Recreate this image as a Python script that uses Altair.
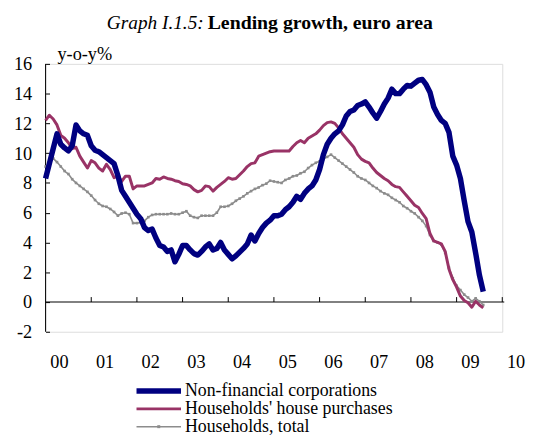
import altair as alt
import pandas as pd

# ---------------- data (monthly, Jan 2000 - Aug 2009, y-o-y %) ----------------
nfc = [8.3, 9.3, 10.3, 11.3, 10.6, 10.35, 10.15, 10.5, 11.9, 11.5,
       11.3, 11.2, 10.5, 10.2, 10.1, 9.9, 9.7, 9.5, 9.3, 8.5,
       7.5, 7.1, 6.7, 6.3, 5.9, 5.6, 5.0, 4.8, 4.9, 4.3,
       3.8, 3.7, 3.4, 3.5, 2.7, 3.2, 3.8, 3.8, 3.5, 3.25,
       3.15, 3.4, 3.7, 3.9, 3.5, 3.6, 4.0, 3.5, 3.2, 2.9,
       3.1, 3.35, 3.6, 3.9, 4.5, 4.1, 4.6, 5.0, 5.3, 5.5,
       5.8, 5.8, 5.9, 6.2, 6.4, 6.7, 7.1, 6.9, 7.3, 7.6,
       7.8, 8.2, 8.9, 9.9, 10.6, 11.0, 11.3, 11.5, 11.9, 12.5,
       12.8, 12.9, 13.2, 13.3, 13.45, 13.1, 12.7, 12.35, 12.8, 13.3,
       13.7, 14.3, 14.0, 14.0, 14.3, 14.55, 14.5, 14.7, 14.9, 14.95,
       14.6, 14.1, 13.1, 12.6, 12.2, 12.0, 11.4, 9.8, 9.2, 8.3,
       6.8, 5.4, 4.7, 3.3, 1.8, 0.7]

hhp = [12.2, 12.55, 12.3, 11.9, 11.2, 11.0, 10.7, 10.3, 10.4, 9.8,
       9.4, 9.0, 9.5, 9.35, 9.0, 8.8, 9.25, 8.9, 8.35, 8.5,
       8.1, 8.45, 8.45, 7.6, 7.8, 7.8, 7.8, 7.9, 8.0, 8.3,
       8.25, 8.4, 8.3, 8.25, 8.15, 8.1, 7.95, 7.9, 7.8, 7.55,
       7.4, 7.5, 7.8, 7.75, 7.45, 7.7, 7.9, 8.1, 8.35, 8.25,
       8.3, 8.55, 8.8, 9.1, 9.3, 9.35, 9.8, 9.9, 10.0, 10.1,
       10.15, 10.15, 10.15, 10.15, 10.15, 10.45, 10.7, 10.85, 10.7, 11.0,
       11.15, 11.3, 11.55, 11.85, 12.05, 12.1, 12.0, 11.7, 11.3, 11.0,
       10.7, 10.4, 9.9, 9.6, 9.45, 9.35, 9.0, 8.7, 8.5, 8.3,
       8.15, 7.9, 7.75, 7.7, 7.4, 7.1, 6.8, 6.5, 6.35, 5.95,
       5.6, 4.6, 4.1, 4.0, 3.9, 3.4, 2.2, 1.5, 1.0, 0.4,
       0.1, -0.05, -0.35, 0.05, -0.2, -0.4]

hht = [9.1, 9.3, 9.65, 9.4, 9.1, 8.8, 8.6, 8.25, 8.0, 7.8,
       7.6, 7.4, 7.15, 6.85, 6.6, 6.45, 6.4, 6.25, 6.05, 5.8,
       5.95, 6.0, 5.9, 5.3, 5.3, 5.35, 5.45, 5.7, 5.85, 5.9,
       5.9, 5.9, 5.9, 5.95, 5.9, 5.9, 6.0, 6.1, 5.8, 5.7,
       5.65, 5.8, 5.8, 5.8, 5.8, 6.0, 6.4, 6.4, 6.45, 6.6,
       6.8, 6.95, 7.1, 7.3, 7.45, 7.6, 7.7, 7.85, 7.95, 8.15,
       8.1, 8.05, 8.0, 8.2, 8.3, 8.45, 8.5, 8.65, 8.75, 9.0,
       9.2, 9.35, 9.45, 9.6, 9.75, 9.9, 9.7, 9.5, 9.3, 9.1,
       8.9, 8.7, 8.45, 8.3, 8.2, 8.0, 7.8, 7.65, 7.45, 7.3,
       7.2, 7.0, 6.85, 6.7, 6.45, 6.3, 6.1, 5.95, 5.7, 5.45,
       5.1, 4.5, 4.1, 4.0, 3.85, 3.3, 2.3, 1.6, 1.1, 0.8,
       0.5, 0.3, 0.05, 0.25, 0.05, -0.2]

series_names = ["Non-financial corporations", "Households' house purchases", "Households, total"]
year_ticks = list(range(2000, 2011))
year_labels = ["00", "01", "02", "03", "04", "05", "06", "07", "08", "09", "10"]
y_ticks = list(range(-2, 17, 2))
title_italic = "Graph I.1.5:"
title_bold = "Lending growth, euro area"
unit_label = "y-o-y%"

# ---------------- styles ----------------
series_colors = ["#000080", "#993366", "#8C8C8C"]
series_widths = [5.5, 3.0, 1.6]
FONT = "Liberation Serif"
FS = 18.5
W, H = 462, 271

months = list(range(len(nfc)))
t = [2000 + m / 12 for m in months]
df = pd.DataFrame({
    "t": t * 3,
    "v": nfc + hhp + hht,
    "s": [n for n, arr in zip(series_names, [nfc, hhp, hht]) for _ in arr],
})

xscale = alt.Scale(domain=[2000, 2010], nice=False, zero=False)
yscale = alt.Scale(domain=[-2, 16], nice=False, zero=False)
cscale = alt.Scale(domain=series_names, range=series_colors)

y_axis = alt.Axis(
    values=y_ticks, labelExpr="toString(datum.value)", domain=False,
    ticks=True, tickSize=4, tickColor="black", tickWidth=1, offset=-4,
    labelPadding=14, grid=False, labelFont=FONT, labelFontSize=FS,
    labelColor="black", title=None, orient="left")


def series_line(i, with_axes=False):
    return alt.Chart(df).transform_filter(alt.datum.s == series_names[i]).mark_line(
        strokeWidth=series_widths[i], strokeJoin="round"
    ).encode(
        x=alt.X("t:Q", scale=xscale, axis=None),
        y=alt.Y("v:Q", scale=yscale, axis=y_axis if with_axes else None),
        color=alt.Color("s:N", scale=cscale, legend=None),
    )


gray_marks = alt.Chart(df).transform_filter(alt.datum.s == series_names[2]).mark_square(
    size=7, opacity=1, color=series_colors[2]
).encode(x=alt.X("t:Q", scale=xscale, axis=None), y=alt.Y("v:Q", scale=yscale, axis=None))

one = pd.DataFrame({"a": [0]})
y_axis_line = alt.Chart(one).mark_rule(color="black", strokeWidth=1).encode(
    x=alt.value(0), y=alt.YDatum(16, scale=yscale, axis=None), y2=alt.Y2Datum(-2))
zero_line = alt.Chart(one).mark_rule(color="black", strokeWidth=1).encode(
    x=alt.value(0), x2=alt.value(W + 2), y=alt.YDatum(0, scale=yscale, axis=None))
years_df = pd.DataFrame({"yr": year_ticks, "lab": year_labels})
x_ticks = alt.Chart(years_df.iloc[1:]).mark_rule(color="black", strokeWidth=1).encode(
    x=alt.X("yr:Q", scale=xscale, axis=None),
    y=alt.YDatum(0, scale=yscale, axis=None), y2=alt.Y2Datum(0.33))
x_labels = alt.Chart(years_df).mark_text(
    align="center", baseline="alphabetic", dx=14, font=FONT, fontSize=FS, color="black"
).encode(x=alt.X("yr:Q", scale=xscale, axis=None), y=alt.value(308), text="lab:N")

title_a = alt.Chart(pd.DataFrame({"txt": [title_italic]})).mark_text(
    align="left", baseline="alphabetic", font=FONT, fontSize=19.5, fontStyle="italic", color="black"
).encode(x=alt.value(62), y=alt.value(-35.3), text="txt:N")
title_b = alt.Chart(pd.DataFrame({"txt": [title_bold]})).mark_text(
    align="left", baseline="alphabetic", font=FONT, fontSize=20, fontWeight="bold", color="black"
).encode(x=alt.value(164), y=alt.value(-35.3), text="txt:N")
unit = alt.Chart(pd.DataFrame({"txt": [unit_label]})).mark_text(
    align="left", baseline="alphabetic", font=FONT, fontSize=FS, color="black"
).encode(x=alt.value(12), y=alt.value(-4), text="txt:N")

legend_df = pd.DataFrame({"s": series_names, "c": series_colors, "w": series_widths,
                          "row": list(range(len(series_names)))})
ly = alt.Y("row:Q", scale=alt.Scale(domain=[0, 2], range=[331, 367], nice=False, zero=False), axis=None)
legend_lines = alt.Chart(legend_df).mark_rule().encode(
    x=alt.value(92), x2=alt.value(137), y=ly,
    color=alt.Color("c:N", scale=None), strokeWidth=alt.StrokeWidth("w:Q", scale=None))
legend_dot = alt.Chart(legend_df.iloc[[2]]).mark_square(size=9, opacity=1, color=series_colors[2]).encode(
    x=alt.value(114.5), y=ly)
legend_text = alt.Chart(legend_df).mark_text(
    align="left", baseline="middle", font=FONT, fontSize=18, color="black"
).encode(x=alt.value(141), y=ly, text="s:N")

chart = alt.layer(
    y_axis_line, zero_line, x_ticks, x_labels,
    series_line(2), gray_marks, series_line(1), series_line(0, with_axes=True),
    title_a, title_b, unit,
    legend_lines, legend_dot, legend_text,
).resolve_scale(y="independent").properties(
    width=W, height=H,
    autosize=alt.AutoSizeParams(type="none"),
    padding={"left": 38, "top": 54, "right": 24, "bottom": 110},
).configure_view(stroke=None).configure(background="white")

chart.save("out.html", embed_options={"renderer": "svg", "actions": False})
